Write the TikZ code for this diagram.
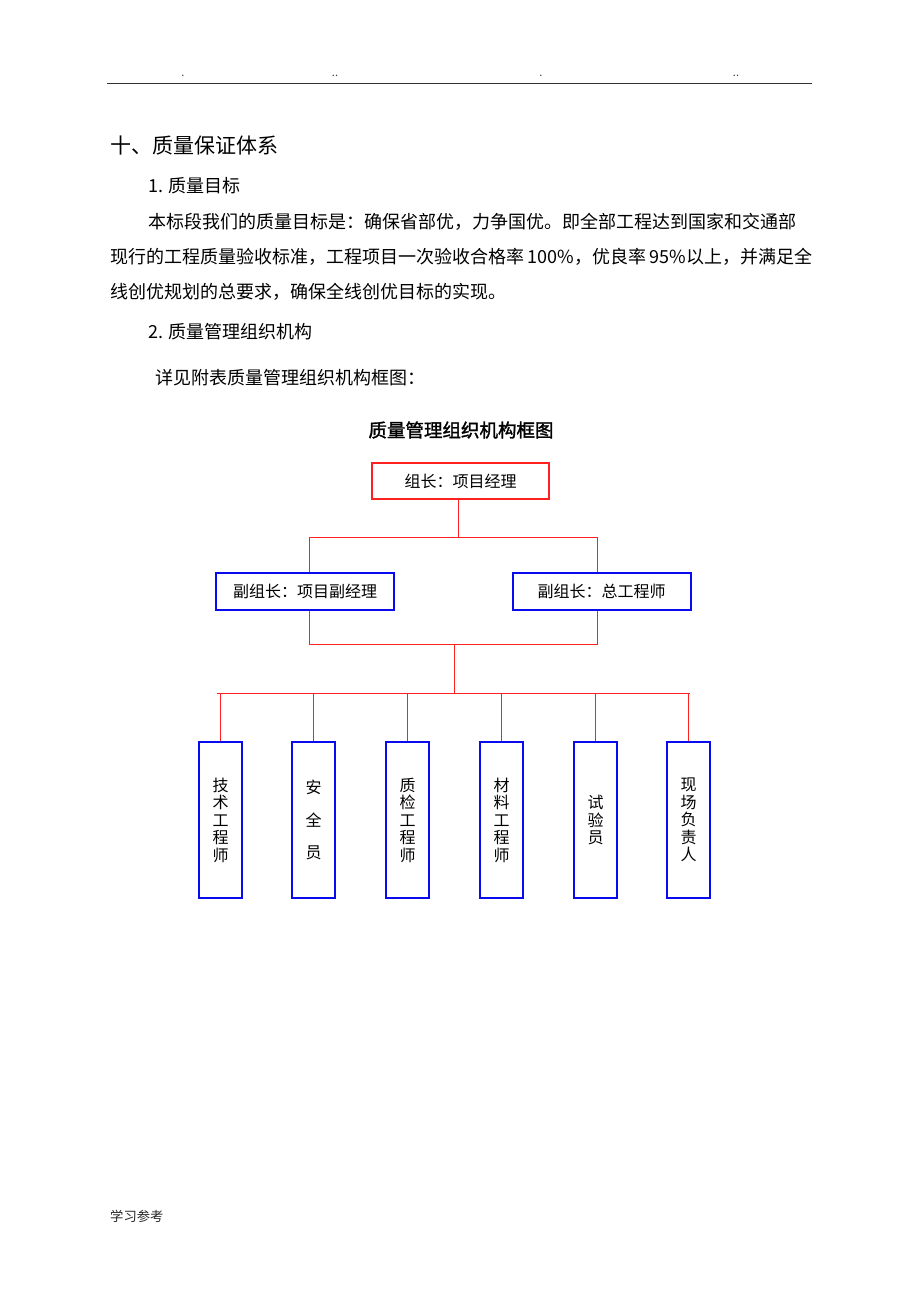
\documentclass[tikz,border=0pt]{standalone}
\usepackage{fontspec}
\setmainfont{Noto Sans CJK SC}
\newfontfamily\cjkbold[FakeBold=1.6]{Noto Sans CJK SC}
\XeTeXinterchartokenstate=1
\newcommand\cjkglue{\hskip0pt plus 3pt\relax}
\XeTeXinterchartoks 1 1 = {\cjkglue}
\XeTeXinterchartoks 1 3 = {\cjkglue}
\XeTeXinterchartoks 3 1 = {\cjkglue}
\XeTeXinterchartoks 0 1 = {\cjkglue}
\XeTeXinterchartoks 1 0 = {\cjkglue}
\XeTeXinterchartoks 3 0 = {\cjkglue}
\XeTeXinterchartoks 0 3 = {\cjkglue}
\definecolor{hdr}{HTML}{333333}
\definecolor{lred}{HTML}{FF2020}
\definecolor{lblue}{HTML}{0A0AF0}
\tikzset{
  txt/.style={anchor=west, inner sep=0pt, font=\fontsize{18}{20}\selectfont},
  redbox/.style={draw=lred, line width=1.6pt, minimum width=177pt, minimum height=36pt, inner sep=0pt, font=\fontsize{16}{18}\selectfont},
  bluebox/.style={draw=lblue, line width=2pt, minimum width=178pt, minimum height=37pt, inner sep=0pt, font=\fontsize{16}{18}\selectfont},
  vbox/.style={draw=lblue, line width=2pt, minimum width=43pt, minimum height=156pt, inner sep=0pt, align=center, font=\fontsize{16}{17.5}\selectfont},
  conn/.style={draw=lred, line width=1.3pt},
  dotmark/.style={inner sep=0pt, text=black!75, font=\fontsize{11}{11}\selectfont}
}
\begin{document}
\begin{tikzpicture}[x=1pt,y=-1pt]
\useasboundingbox[fill=white] (0,0) rectangle (920,1302);
% header
\node[dotmark] (d1) at (183,76) {.};
\node[dotmark] (d2) at (335,76) {..};
\node[dotmark] (d3) at (541,76) {.};
\node[dotmark] (d4) at (736,76) {..};
\draw[hdr, line width=1.8pt] (107,83.5) -- (812,83.5);
% text
\node[txt, font=\fontsize{21}{23}\selectfont] (t0) at (110,146) {十、质量保证体系};
\node[txt] (t1) at (148,186) {1. 质量目标};
\node[txt] (p1) at (148,222) {\makebox[664pt][s]{本标段我们的质量目标是：确保省部优，力争国优。即全部工程达到国家和交通部}};
\node[txt] (p2) at (110,257) {\makebox[702pt][s]{现行的工程质量验收标准，工程项目一次验收合格率 100\%，优良率 95\%以上，并满足全}};
\node[txt] (p3) at (110,292) {线创优规划的总要求，确保全线创优目标的实现。};
\node[txt] (t2) at (148,332) {2. 质量管理组织机构};
\node[txt] (t3) at (155,378) {详见附表质量管理组织机构框图：};
\node[inner sep=0pt, font=\fontsize{18.5}{20}\cjkbold] (ct) at (461,430) {质量管理组织机构框图};
% chart
\node[redbox] (top) at (460.5,481) {组长：项目经理};
\node[bluebox] (l2) at (305,591) {副组长：项目副经理};
\node[bluebox] (r2) at (601.5,591) {副组长：总工程师};
\node[vbox] (b1) at (220.5,820) {技\\术\\工\\程\\师};
\node[vbox] (b2) at (313.5,820) {安\\[15pt]全\\[15pt]员};
\node[vbox] (b3) at (407.5,820) {质\\检\\工\\程\\师};
\node[vbox] (b4) at (501.5,820) {材\\料\\工\\程\\师};
\node[vbox] (b5) at (595.5,820) {试\\验\\员};
\node[vbox] (b6) at (688.5,820) {现\\场\\负\\责\\人};
\coordinate (j1) at (458.5,537.5);
\coordinate (jL) at (309.5,537.5);
\coordinate (jR) at (597.5,537.5);
\coordinate (kL) at (309.5,644.5);
\coordinate (kR) at (597.5,644.5);
\coordinate (k) at (454.5,644.5);
\coordinate (m) at (454.5,693.5);
\coordinate (bL) at (217,693.5);
\coordinate (bR) at (690,693.5);
\draw[conn] (j1 |- top.south) -- (j1);
\draw[conn] (jL |- l2.north) -- (jL) -- (jR) -- (jR |- r2.north);
\draw[conn] (kL |- l2.south) -- (kL) -- (kR) -- (kR |- r2.south);
\draw[conn] (k) -- (m);
\draw[conn] (bL) -- (bR);
\foreach \b in {b1,b2,b3,b4,b5,b6} {\draw[conn] (\b.north |- m) -- (\b.north);}
% footer
\node[txt, font=\fontsize{13.3}{15}\selectfont, text=black!85] (ft) at (110,1216) {学习参考};
\end{tikzpicture}
\end{document}
